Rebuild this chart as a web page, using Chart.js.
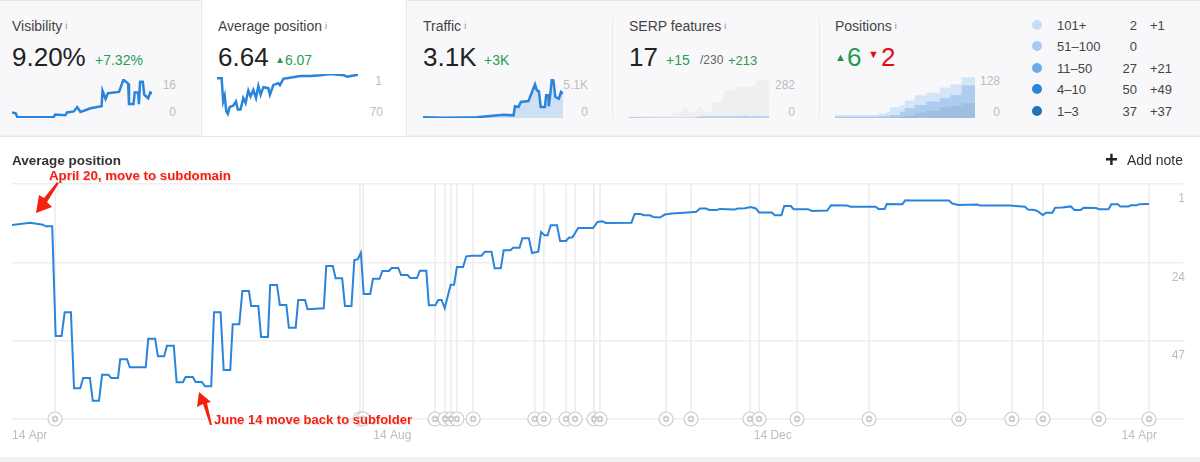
<!DOCTYPE html>
<html>
<head>
<meta charset="utf-8">
<title>Average position</title>
<script src="https://cdn.jsdelivr.net/npm/chart.js@4/dist/chart.umd.min.js"></script>
<style>
html, body { margin: 0; padding: 0; width: 1200px; height: 462px; overflow: hidden; background: #eef0f2; }
body { font-family: "Liberation Sans", Arial, sans-serif; color: #333; position: relative; }
.t { position: absolute; white-space: nowrap; line-height: 1; }
canvas { position: absolute; display: block; }
#top { position: absolute; left: 0; top: 0; width: 1200px; height: 135px; background: #f8f8fb; border-top: 1px solid #e6e6e8; box-sizing: border-box; }
#active { position: absolute; left: 201px; top: 0; width: 206px; height: 137px; background: #fff; border-left: 1px solid #e8e8ea; border-right: 1px solid #e8e8ea; box-sizing: border-box; }
#main { position: absolute; left: 0; top: 136px; width: 1200px; height: 321px; background: #fff; border-top: 1px solid #e8e8ea; box-sizing: border-box; }
.div { position: absolute; top: 17px; height: 102px; width: 1px; background: #ebebee; }
.title { font-size: 14px; color: #444; top: 19px; }
.title sup { font-size: 9px; color: #888; margin-left: 3px; position: relative; top: -2px; vertical-align: baseline; }
.big { font-size: 26px; color: #222; top: 44px; }
.up { color: #2c9a55; }
.delta { font-size: 14px; top: 53px; }
.axis { font-size: 12px; color: #bdbdbd; }
.leg { font-size: 13px; color: #444; }
.dot { position: absolute; width: 10px; height: 10px; border-radius: 50%; left: 1032px; }
.note { font-weight: bold; color: #f81c10; text-shadow: 0 0 2px #fff, 0 0 2px #fff, 1px 1px 1px #ccc; }
svg { position: absolute; left: 0; top: 0; pointer-events: none; }
</style>
</head>
<body>
<div id="top"></div>
<div id="active"></div>
<div class="div" style="left:612px"></div>
<div class="div" style="left:819px"></div>
<div id="main"></div>

<div class="t title" style="left:12px">Visibility<sup>i</sup></div>
<div class="t big" style="left:12px">9.20%</div>
<div class="t delta up" style="left:95px">+7.32%</div>
<div class="t axis" style="right:1024px;top:79px">16</div>
<div class="t axis" style="right:1024px;top:106px">0</div>

<div class="t title" style="left:218px">Average position<sup>i</sup></div>
<div class="t big" style="left:218px">6.64</div>
<div class="t delta up" style="left:275px"><span style="font-size:10px;position:relative;top:-2px">▲</span>6.07</div>
<div class="t axis" style="right:818px;top:75px">1</div>
<div class="t axis" style="right:817px;top:106px">70</div>

<div class="t title" style="left:423px">Traffic<sup>i</sup></div>
<div class="t big" style="left:423px">3.1K</div>
<div class="t delta up" style="left:484px">+3K</div>
<div class="t axis" style="right:612px;top:79px">5.1K</div>
<div class="t axis" style="right:612px;top:106px">0</div>

<div class="t title" style="left:629px">SERP features<sup>i</sup></div>
<div class="t big" style="left:629px">17</div>
<div class="t delta up" style="left:666px">+15</div>
<div class="t" style="left:700px;top:54px;font-size:12px;color:#666">/230</div>
<div class="t delta up" style="left:728px;font-size:13px;top:54px">+213</div>
<div class="t axis" style="right:405px;top:79px">282</div>
<div class="t axis" style="right:405px;top:106px">0</div>

<div class="t title" style="left:835px">Positions<sup>i</sup></div>
<div class="t" style="left:835px;top:52px;font-size:11px;color:#1f8f45">▲</div>
<div class="t" style="left:847px;top:44px;font-size:26px;color:#1f9b4d">6</div>
<div class="t" style="left:868px;top:49px;font-size:11px;color:#dd1111">▼</div>
<div class="t" style="left:881px;top:44px;font-size:26px;color:#dd1111">2</div>
<div class="t axis" style="right:200px;top:75px">128</div>
<div class="t axis" style="right:200px;top:106px">0</div>

<div class="dot" style="top:20px;background:#c6ddf5"></div>
<div class="dot" style="top:41px;background:#a6caf0"></div>
<div class="dot" style="top:63px;background:#6fabe6"></div>
<div class="dot" style="top:84px;background:#2a84dc"></div>
<div class="dot" style="top:106px;background:#1f73b7"></div>
<div class="t leg" style="left:1057px;top:19px">101+</div>
<div class="t leg" style="left:1057px;top:40px">51–100</div>
<div class="t leg" style="left:1057px;top:62px">11–50</div>
<div class="t leg" style="left:1057px;top:83px">4–10</div>
<div class="t leg" style="left:1057px;top:105px">1–3</div>
<div class="t leg" style="right:63px;top:19px">2</div>
<div class="t leg" style="right:63px;top:40px">0</div>
<div class="t leg" style="right:63px;top:62px">27</div>
<div class="t leg" style="right:63px;top:83px">50</div>
<div class="t leg" style="right:63px;top:105px">37</div>
<div class="t leg up" style="left:1150px;top:19px">+1</div>
<div class="t leg up" style="left:1150px;top:62px">+21</div>
<div class="t leg up" style="left:1150px;top:83px">+49</div>
<div class="t leg up" style="left:1150px;top:105px">+37</div>

<canvas id="sparkVisibility" style="left:12px;top:79px"></canvas>
<canvas id="sparkPosition" style="left:217px;top:74px"></canvas>
<canvas id="sparkTraffic" style="left:423px;top:79px"></canvas>
<canvas id="sparkSerp" style="left:629px;top:79px"></canvas>
<canvas id="sparkPositions" style="left:835px;top:76px"></canvas>

<canvas id="mainChart" style="left:0;top:136px"></canvas>

<div class="t" style="left:12px;top:154px;font-size:13.5px;font-weight:bold;color:#333">Average position</div>
<div class="t" style="left:1105px;top:149px;font-size:22px;font-weight:bold;color:#222">+</div>
<div class="t" style="left:1127px;top:153px;font-size:14px;color:#333">Add note</div>

<svg width="1200" height="462">
  <polygon points="36,213 39,195 44,198 57,182 59,183 47,202 52,207" fill="#f5210f"/>
  <polygon points="199,392 197,407 203,404 210,425 212,425 207,403 211,402" fill="#f5210f"/>
</svg>
<div class="t note" style="left:49px;top:169px;font-size:13.3px">April 20, move to subdomain</div>
<div class="t note" style="left:214px;top:413px;font-size:13px">June 14 move back to subfolder</div>

<script>
// Main chart data (days since 14 Apr, average position)
const avgDays = [0,5.8,9.9,10.8,12.9,14,15.9,16.9,18.9,19.9,21.9,22.8,25,25.9,27.9,28.9,30.9,31.8,34,34.7,36.9,37.8,42.9,43.7,45.9,46.8,48.8,49.7,51.9,52.8,54.8,55.7,58,58.9,60.9,61.9,63.9,64.8,66.9,67.9,70,70.8,72.9,73.9,76,76.7,79,79.9,82.1,82.8,85,85.9,88,88.8,91,91.8,94,94.8,100,100.8,102.9,103.8,105.9,106.8,108.9,109.8,110.9,111.9,112.8,114.9,115.8,117.9,118.8,120.9,121.8,123.9,124.8,126.9,127.7,129.9,130.8,132.9,133.7,135.8,136.7,137.8,138.8,140.7,141.8,142.7,144.7,145.7,147.5,150.6,151.7,153.8,154.8,156.8,157.7,159.9,160.7,162.8,163.7,165.8,166.8,168.8,169.7,170.8,171.8,172.8,174.8,175.8,177.7,178.6,179.8,181.6,186.4,187.8,189.4,190.5,198.7,199.7,201.6,202.7,204.6,205.7,207.8,209.4,211.7,216.8,219.5,220.7,222.6,223.7,226,227.1,231.8,232.8,235.1,236.9,238.6,239.6,243.7,244.7,246.8,247.7,249.8,250.7,255.3,256.6,261.5,262.7,267.8,269,277,277.9,279.9,280.6,285.6,286.5,288.3,300.5,301.6,303.6,309.7,310.5,320,324.9,325.9,328,329.1,330.6,331.7,333.7,334.6,336.9,339.6,340.8,342.8,343.7,347.8,348.6,351.7,352.6,354.7,355.5,358.1,358.9,360.8,361.5,364.7];
const avgValues = [13.04,12.36,12.95,13.42,13.42,45.63,45.63,38.67,38.67,60.98,60.98,57.96,57.96,64.62,64.62,56.99,56.99,57.96,57.96,52.47,52.47,54.82,54.82,46.42,46.42,51.59,51.59,48.47,48.47,59.22,59.22,57.67,57.67,59.13,59.13,60.4,60.4,38.67,38.67,55.61,55.61,42.19,42.19,32.42,32.42,36.82,36.82,45.92,45.92,30.65,30.65,36.53,36.53,43.19,43.19,35.06,35.06,37.79,37.5,25.08,25.08,28.69,28.69,36.82,36.82,23.31,23.11,21.17,33.3,33.3,28.8,28.8,26.54,26.54,25.66,25.66,27.72,27.72,28.6,28.6,26.46,26.46,36.61,36.61,35.06,35.06,37.49,30.57,30.57,25.37,25.37,22.23,22.05,22.05,20.88,20.88,25.75,25.75,20.47,20.47,19.7,19.7,16.94,16.94,21.26,20.88,15.09,16.06,16.06,13.13,13.13,17.74,17.74,16.77,16.65,13.92,13.92,12.16,11.95,12.45,12.36,9.81,9.81,10.19,10.19,10.69,10.84,9.98,9.66,9.34,9.13,8.19,8.19,8.63,8.63,8.31,8.52,8.19,8.1,7.75,8.19,9.34,9.34,10.19,10.19,7.46,7.46,8.4,8.4,8.93,8.81,7.25,7.34,7.66,7.66,8.31,8.31,6.84,6.93,5.79,5.87,5.87,6.73,7.14,7.05,7.34,7.34,7.66,8.52,8.63,9.04,10.1,9.46,9.46,7.99,7.87,7.58,8.6,8.6,7.99,8.08,8.4,8.4,6.93,6.93,7.58,7.58,7.25,7.25,6.93,6.84];
const noteDays = [13.8,111.6,112.6,135.7,138.9,140.8,142.7,147.9,167.7,170.6,177.7,180.6,186.7,188.6,209.8,217.8,236.7,239.6,251.8,274.9,303.7,320.7,330.7,348.6,364.7];
const yTicks = [1,24,47,70];
const yTickLabels = ['1','24','47',''];
const xTickDays = [0,122,244,365];
const xTickLabels = ['14 Apr','14 Aug','14 Dec','14 Apr'];
const xTickAligns = ['left','center','center','right'];
const axisEndDay = 375.6;

// Sparkline data
const visDays = [0,9.6,14,108.5,112.9,139,143.5,161,170,178.5,204.8,222,233.6,236,244,250,279,290.5,302.8,305,316.8,320,329,330.8,334,341,344.8,355,360.5,365];
const visValues = [2.3,1.9,0.3,0.4,1.4,1.1,2.3,2.7,4.5,2.5,4,4.5,4.8,11.2,7.8,10.2,10.7,15.7,14.1,5.7,5.7,10.5,10.5,5.7,14.9,14.9,9.6,8.1,10.5,10];
const posDays = [0,12,16,20,24,28,33,42,49,54,61,68,74,81,87,94,101,107,113,120,133,137,146,159,163,172,181,216,242,268,294,328,337,365];
const posValues = [7.7,7.7,43.9,35.1,59.4,63.5,52.7,50.6,43.9,56.8,56.8,38.7,46.5,26.8,36.1,25.8,38.7,19.6,33.6,21.7,23.2,33.6,18.1,15.5,18.6,8.2,7.7,4.1,4.1,3.1,1,3.1,5.1,2];
const trafficDays = [0,52,140,175,210,236,240,249,255,275,286,292,297,302,307,318,321,327,328,332,336,340,345,354,360,365];
const trafficValues = [87,20,87,262,436,349,1526,1439,2093,2224,3619,4404,3619,3488,1439,1439,2965,2965,1526,3183,5100,4927,2747,2529,3401,3183];
const serpDays = [0,111,116,137,146,159,172,185,198,214,218,242,249,269,276,282,304,315,329,334,344,365];
const serpAll = [17,17,35,40,84,40,40,89,40,47,116,114,203,207,193,227,225,227,232,267,282,269];
const serpOwned = [7,3,3,3,3,3,3,12,12,12,12,12,12,12,12,12,17,12,12,17,12,12];
const rankDays = [0,113,135,143,169,182,208,238,273,301,330,365];
const rankAll = [9,14,19,33,40,53,69,77,93,103,124,128];
const rankTop50 = [4,5,6,9,19,30,40,50,60,70,99,101];
const rankTop3 = [1,1,1,2,4,8,16,22,33,37,45,45];

function toPoints(xs, ys) {
    return xs.map((x, i) => ({ x: x, y: ys[i] }));
}

function drawSpark(id, width, height, datasets, yMin, yMax, reversed) {
    const canvas = document.getElementById(id);
    canvas.width = width;
    canvas.height = height;
    new Chart(canvas.getContext('2d'), {
        type: 'line',
        data: { datasets: datasets },
        options: {
            responsive: false,
            animation: false,
            devicePixelRatio: 1,
            plugins: { legend: { display: false }, tooltip: { enabled: false } },
            elements: { point: { radius: 0 }, line: { tension: 0 } },
            scales: {
                x: { type: 'linear', display: false, min: 0, max: 365 },
                y: { display: false, min: yMin, max: yMax, reverse: !!reversed }
            }
        }
    });
}

const blue = '#2a84dc';
drawSpark('sparkVisibility', 140, 39, [{ data: toPoints(visDays, visValues), borderColor: blue, borderWidth: 2.5, clip: false }], 0, 16);
drawSpark('sparkPosition', 141, 44, [{ data: toPoints(posDays, posValues), borderColor: blue, borderWidth: 2.5, clip: false }], 1, 70, true);
drawSpark('sparkTraffic', 140, 39, [{ data: toPoints(trafficDays, trafficValues), borderColor: blue, borderWidth: 2.5, fill: 'origin', backgroundColor: '#cfe0f4', clip: false }], 0, 5100);
drawSpark('sparkSerp', 140, 39, [
    { data: toPoints(serpDays, serpOwned), borderWidth: 0, fill: 'origin', backgroundColor: '#b5d2f0', order: 1 },
    { data: toPoints(serpDays, serpAll), borderWidth: 0, fill: 'origin', backgroundColor: '#efefef', order: 2 }
], 0, 282);
drawSpark('sparkPositions', 140, 42, [
    { data: toPoints(rankDays, rankTop3), borderWidth: 0, fill: 'origin', backgroundColor: '#a0bfe0', stepped: true, order: 1 },
    { data: toPoints(rankDays, rankTop50), borderWidth: 0, fill: 'origin', backgroundColor: '#aecdee', stepped: true, order: 2 },
    { data: toPoints(rankDays, rankAll), borderWidth: 0, fill: 'origin', backgroundColor: '#d4e5f7', stepped: true, order: 3 }
], 0, 128);

// Vertical note lines and the date labels under the plot
const noteLines = {
    id: 'noteLines',
    beforeDatasetsDraw(chart) {
        const { ctx, chartArea, scales } = chart;
        ctx.save();
        ctx.strokeStyle = '#ececec';
        ctx.lineWidth = 1.5;
        noteDays.forEach(day => {
            const px = scales.x.getPixelForValue(day);
            ctx.beginPath();
            ctx.moveTo(px, chartArea.top);
            ctx.lineTo(px, chartArea.bottom);
            ctx.stroke();
        });
        ctx.restore();
    },
    afterDraw(chart) {
        const { ctx, chartArea, scales } = chart;
        ctx.save();
        ctx.fillStyle = '#bdbdbd';
        ctx.font = '12px "Liberation Sans"';
        ctx.textBaseline = 'middle';
        xTickDays.forEach((day, i) => {
            ctx.textAlign = xTickAligns[i];
            ctx.fillText(xTickLabels[i], scales.x.getPixelForValue(day) + (i === 3 ? 7 : 0), chartArea.bottom + 17);
        });
        ctx.restore();
    }
};

const noteMarks = noteDays.map(d => ({ x: d, y: 70 }));
const mainCanvas = document.getElementById('mainChart');
mainCanvas.width = 1200;
mainCanvas.height = 321;
new Chart(mainCanvas.getContext('2d'), {
    type: 'line',
    data: {
        datasets: [
            {
                label: 'Average position',
                data: toPoints(avgDays, avgValues),
                borderColor: blue,
                borderWidth: 2,
                pointRadius: 0,
                tension: 0,
                order: 4
            },
            {
                label: 'Note hub',
                data: noteMarks,
                showLine: false,
                pointStyle: 'circle',
                pointRadius: 1.5,
                backgroundColor: '#ffffff',
                borderWidth: 0,
                clip: false,
                order: 1
            },
            {
                label: 'Note icon',
                data: noteMarks,
                showLine: false,
                pointStyle: 'star',
                pointRadius: 3.5,
                borderColor: '#b5b5b5',
                borderWidth: 1.2,
                clip: false,
                order: 2
            },
            {
                label: 'Notes',
                data: noteMarks,
                showLine: false,
                pointStyle: 'circle',
                pointRadius: 7,
                backgroundColor: '#ffffff',
                borderColor: '#cccccc',
                borderWidth: 1.2,
                clip: false,
                order: 3
            }
        ]
    },
    options: {
        responsive: false,
        animation: false,
        devicePixelRatio: 1,
        layout: { padding: { left: 12, right: 17, top: 48, bottom: 38 } },
        plugins: { legend: { display: false }, tooltip: { enabled: false } },
        scales: {
            x: { type: 'linear', display: false, min: 0, max: axisEndDay },
            y: {
                position: 'right',
                reverse: true,
                min: 1,
                max: 70,
                afterBuildTicks: axis => { axis.ticks = yTicks.map(v => ({ value: v })); },
                afterFit: axis => { axis.width = 0; },
                border: { display: false },
                grid: { color: '#eeeeee', lineWidth: 1.5, drawTicks: false },
                ticks: {
                    mirror: true,
                    padding: 2,
                    labelOffset: 15,
                    color: '#bdbdbd',
                    font: { family: '"Liberation Sans"', size: 12 },
                    callback: (value) => yTickLabels[yTicks.indexOf(value)]
                }
            }
        }
    },
    plugins: [noteLines]
});
</script>
</body>
</html>
